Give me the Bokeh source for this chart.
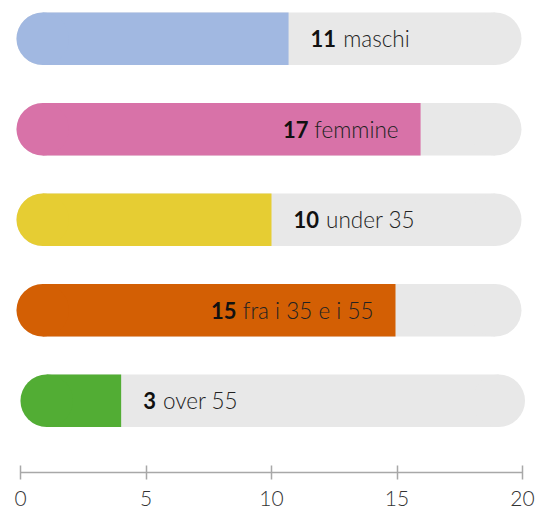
import numpy as np
from bokeh.plotting import figure
from bokeh.models import ColumnDataSource, Range1d, FixedTicker
from bokeh.core.properties import value
from bokeh.embed import file_html
from bokeh.resources import INLINE

# ---- data ----
categories = ["maschi", "femmine", "under 35", "fra i 35 e i 55", "over 55"]
counts = [11, 17, 10, 15, 3]
bar_lengths = [10.68, 15.94, 10.0, 14.94, 4.01]
track_start = [-0.16, -0.16, -0.16, -0.16, 0.0]
track_end = [19.96, 19.96, 19.96, 19.96, 20.1]
colors = ["#A1B8E1", "#D872A8", "#E6CD33", "#D35F04", "#52AD34"]
tick_values = [0, 5, 10, 15, 20]

# ---- style ----
W, H = 536, 509
X0_PX = 20            # pixel of value 0
PX_PER_UNIT = 25.1
ROW_PX = 90.5
ROW0_PX = 38.3
AXIS_PX = 472
BAR_H = 52.5          # px
R_DATA = (BAR_H / 2) / PX_PER_UNIT
TRACK = "#E8E8E8"
FONT_LIGHT = "Lato Light"
FONT_BOLD = "Lato"
FS_DESC = "22.5px"
FS_NUM = "22px"
DIGIT_W = 12.8
GAP = 7.0
PAD = 22
INSIDE_DESC_W = {"femmine": 83, "fra i 35 e i 55": 130}

n = len(categories)
ys = np.arange(n, dtype=float)
ts = np.array(track_start)
te = np.array(track_end)
bl = np.array(bar_lengths)
xl = ts + R_DATA
xr = te - R_DATA

x_start = -X0_PX / PX_PER_UNIT
x_end = (W - X0_PX) / PX_PER_UNIT
y_top = -ROW0_PX / ROW_PX
y_bot = (AXIS_PX - ROW0_PX) / ROW_PX

p = figure(width=W, height=H, output_backend="svg", toolbar_location=None,
           x_range=Range1d(x_start, x_end), y_range=Range1d(y_bot, y_top),
           min_border_left=0, min_border_right=0, min_border_top=0,
           min_border_bottom=H - AXIS_PX, background_fill_color="white",
           border_fill_color="white")
p.outline_line_color = None
p.grid.visible = False
p.yaxis.visible = False

# gray tracks
p.rect(x=(xl + xr) / 2, y=ys, width=xr - xl, height=BAR_H, height_units="screen",
       fill_color=TRACK, line_color=None)
p.scatter(x=np.concatenate([xl, xr]), y=np.concatenate([ys, ys]), size=BAR_H,
          marker="circle", fill_color=TRACK, line_color=None)

# colored bars
p.rect(x=(xl + bl) / 2, y=ys, width=bl - xl, height=BAR_H, height_units="screen",
       fill_color=colors, line_color=None)
p.scatter(x=xl, y=ys, size=BAR_H, marker="circle", fill_color=colors, line_color=None)

# labels
num_off, num_align, desc_off, desc_align = [], [], [], []
for c, v, b in zip(categories, counts, bar_lengths):
    if b > 12:
        w = INSIDE_DESC_W.get(c, 9.0 * len(c))
        desc_off.append(-PAD); desc_align.append("right")
        num_off.append(-PAD - w - GAP); num_align.append("right")
    else:
        num_off.append(PAD); num_align.append("left")
        desc_off.append(PAD + len(str(v)) * DIGIT_W + GAP); desc_align.append("left")

src = ColumnDataSource(dict(x=bl, y=ys, num=[str(v) for v in counts], desc=categories,
                            num_off=num_off, num_align=num_align,
                            desc_off=desc_off, desc_align=desc_align))
p.text(x="x", y="y", text="num", x_offset="num_off", text_align="num_align",
       text_baseline="middle", text_font=value(FONT_BOLD), text_font_style="bold",
       text_font_size=FS_NUM, text_color="#111111", source=src)
p.text(x="x", y="y", text="desc", x_offset="desc_off", text_align="desc_align",
       text_baseline="middle", text_font=value(FONT_LIGHT),
       text_font_size=FS_DESC, text_color="#222222", source=src)

ax = p.xaxis[0]
ax.ticker = FixedTicker(ticks=tick_values)
ax.bounds = (tick_values[0], tick_values[-1])
ax.minor_tick_line_color = None
ax.axis_line_color = "#A8A8A8"
ax.axis_line_width = 1.5
ax.major_tick_line_color = "#A8A8A8"
ax.major_tick_line_width = 1.5
ax.major_tick_in = 7
ax.major_tick_out = 7
ax.major_label_standoff = 11
ax.major_label_text_font = FONT_LIGHT
ax.major_label_text_font_size = "21px"
ax.major_label_text_color = "#333333"

open("out.html", "w").write(file_html(p, INLINE))
